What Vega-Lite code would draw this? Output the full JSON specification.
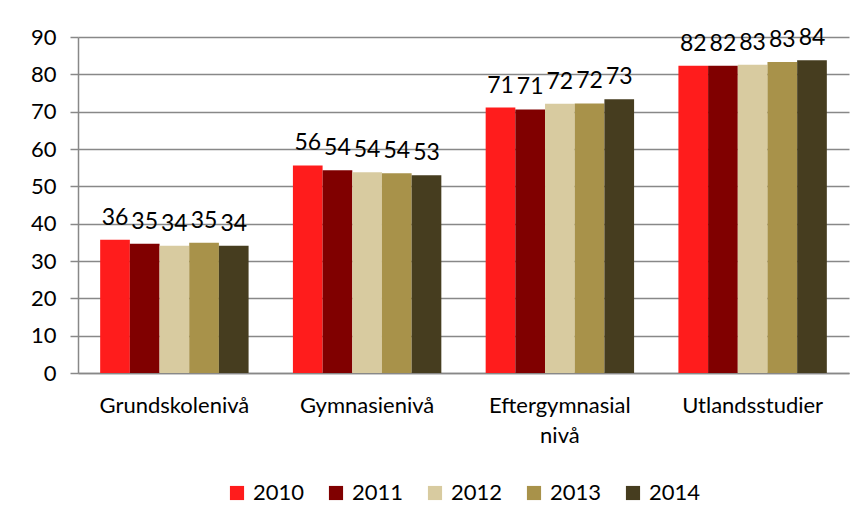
{
  "$schema": "https://vega.github.io/schema/vega-lite/v6.json",
  "width": 771,
  "height": 336,
  "autosize": {"type": "none"},
  "padding": {"left": 78, "top": 37, "right": 16, "bottom": 158},
  "background": "white",
  "data": {
    "values": [
      {"niva": "Grundskolenivå", "ar": "2010", "andel": 35.7},
      {"niva": "Grundskolenivå", "ar": "2011", "andel": 34.6},
      {"niva": "Grundskolenivå", "ar": "2012", "andel": 34.1},
      {"niva": "Grundskolenivå", "ar": "2013", "andel": 34.9},
      {"niva": "Grundskolenivå", "ar": "2014", "andel": 34.1},
      {"niva": "Gymnasienivå", "ar": "2010", "andel": 55.6},
      {"niva": "Gymnasienivå", "ar": "2011", "andel": 54.3},
      {"niva": "Gymnasienivå", "ar": "2012", "andel": 53.8},
      {"niva": "Gymnasienivå", "ar": "2013", "andel": 53.5},
      {"niva": "Gymnasienivå", "ar": "2014", "andel": 53.0},
      {"niva": "Eftergymnasial nivå", "ar": "2010", "andel": 71.1},
      {"niva": "Eftergymnasial nivå", "ar": "2011", "andel": 70.6},
      {"niva": "Eftergymnasial nivå", "ar": "2012", "andel": 72.1},
      {"niva": "Eftergymnasial nivå", "ar": "2013", "andel": 72.2},
      {"niva": "Eftergymnasial nivå", "ar": "2014", "andel": 73.3},
      {"niva": "Utlandsstudier", "ar": "2010", "andel": 82.3},
      {"niva": "Utlandsstudier", "ar": "2011", "andel": 82.3},
      {"niva": "Utlandsstudier", "ar": "2012", "andel": 82.6},
      {"niva": "Utlandsstudier", "ar": "2013", "andel": 83.3},
      {"niva": "Utlandsstudier", "ar": "2014", "andel": 83.8}
    ]
  },
  "encoding": {
    "x": {
      "field": "niva",
      "type": "nominal",
      "sort": null,
      "scale": {"paddingInner": 0.23, "paddingOuter": 0.115},
      "axis": {
        "title": null,
        "labelAngle": 0,
        "labelFont": "Lato",
        "labelFontSize": 22,
        "labelColor": "black",
        "labelPadding": 22,
        "labelLimit": 300,
        "labelExpr": "datum.label == 'Eftergymnasial nivå' ? ['Eftergymnasial', 'nivå'] : datum.label",
        "labelLineHeight": 30,
        "ticks": false,
        "domainColor": "#888888",
        "domainWidth": 1.5
      }
    },
    "xOffset": {"field": "ar", "type": "nominal"},
    "y": {
      "field": "andel",
      "type": "quantitative",
      "scale": {"domain": [0, 90]},
      "axis": {
        "title": null,
        "values": [0, 10, 20, 30, 40, 50, 60, 70, 80, 90],
        "labelFont": "Lato",
        "labelFontSize": 22,
        "labelColor": "black",
        "labelPadding": 14,
        "tickSize": 8,
        "tickColor": "#888888",
        "tickWidth": 1.5,
        "domainColor": "#888888",
        "domainWidth": 1.5,
        "gridColor": "#888888",
        "gridWidth": 1.5
      }
    }
  },
  "layer": [
    {
      "mark": {"type": "bar"},
      "encoding": {
        "color": {
          "field": "ar",
          "type": "nominal",
          "scale": {
            "domain": ["2010", "2011", "2012", "2013", "2014"],
            "range": ["#FF1C1C", "#800000", "#D8CBA0", "#A8924A", "#463D1F"]
          },
          "legend": {
            "title": null,
            "orient": "bottom",
            "direction": "horizontal",
            "symbolType": "square",
            "symbolSize": 200,
            "symbolStrokeWidth": 0,
            "labelFont": "Lato",
            "labelFontSize": 22,
            "labelColor": "black",
            "labelOffset": 5,
            "columnPadding": 20,
            "offset": 36
          }
        }
      }
    },
    {
      "mark": {"type": "text", "baseline": "bottom", "dy": -10, "font": "Lato", "fontSize": 23, "color": "black"},
      "encoding": {
        "text": {"field": "andel", "type": "quantitative", "format": ".0f"}
      }
    }
  ],
  "config": {
    "view": {"stroke": null},
    "legend": {"layout": {"bottom": {"anchor": "middle"}}}
  }
}
